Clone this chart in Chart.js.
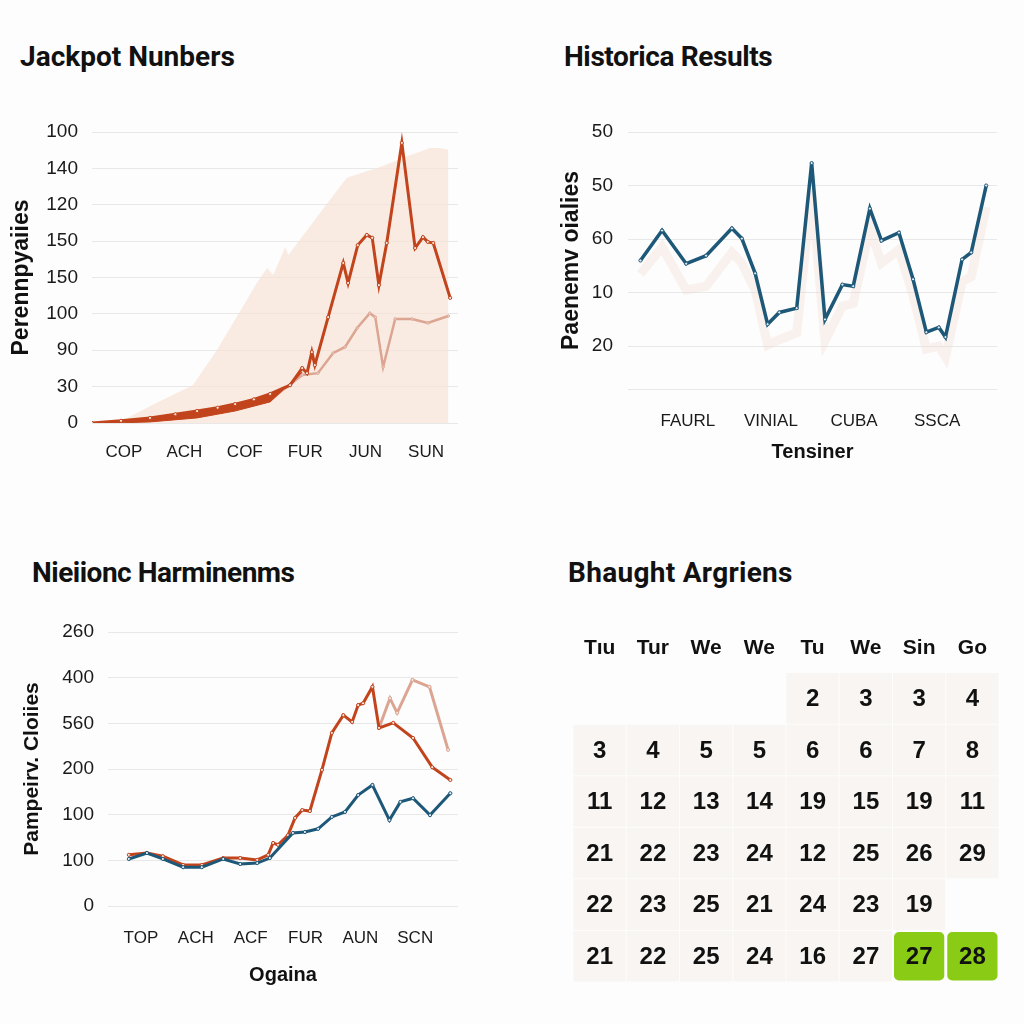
<!DOCTYPE html>
<html><head><meta charset="utf-8">
<script src="https://cdn.jsdelivr.net/npm/chart.js@4.4.1/dist/chart.umd.min.js"></script>
<style>
html,body{margin:0;padding:0;background:#fdfdfd;width:1024px;height:1024px;overflow:hidden}
.t{position:absolute;font-family:Roboto,'Liberation Sans',sans-serif;font-weight:700;font-size:28px;line-height:32px;color:#111;white-space:nowrap}
canvas{position:absolute}
</style></head><body>
<div class="t" style="left:20px;top:41px">Jackpot Nunbers</div>
<div class="t" style="left:564px;top:41px;letter-spacing:-0.4px">Historica Results</div>
<div class="t" style="left:32px;top:557px;letter-spacing:-0.5px">Nieiionc Harminenms</div>
<div class="t" style="left:568px;top:557px;letter-spacing:0.3px">Bhaught Argriens</div>
<canvas id="c1" width="480" height="380" style="left:0;top:100px"></canvas>
<canvas id="c2" width="480" height="380" style="left:540px;top:100px"></canvas>
<canvas id="c3" width="480" height="400" style="left:0;top:600px"></canvas>
<canvas id="c4" width="484" height="400" style="left:540px;top:600px"></canvas>
<script>
// ---------- Panel 1: Jackpot Nunbers ----------
const p1XTicks = [1,2,3,4,5,6];
const p1XLabels = ["COP","ACH","COF","FUR","JUN","SUN"];
const p1YTicks = [0,1,2,3,4,5,6,7,8];
const p1YLabels = ["0","30","90","100","150","150","120","140","100"];
const p1MainX = [0.47,0.95,1.43,1.85,2.21,2.55,2.84,3.15,3.42,3.75,3.95,4.03,4.11,4.16,4.38,4.63,4.71,4.87,5.02,5.11,5.22,5.35,5.60,5.82,5.95,6.03,6.12,6.40];
const p1MainY = [0,0.06,0.14,0.24,0.33,0.42,0.52,0.65,0.80,1.04,1.51,1.37,1.95,1.59,2.91,4.40,3.85,4.89,5.17,5.09,3.79,4.95,7.70,4.81,5.11,4.98,4.95,3.44];
const p1BandX = [0.47,0.95,1.43,1.85,2.21,2.55,2.84,3.15,3.42,3.75,3.95,3.42,2.84,2.21,1.43,0.47];
const p1BandY = [0,0.06,0.14,0.24,0.33,0.42,0.52,0.65,0.80,1.04,1.40,0.58,0.33,0.14,0.03,-0.02];
const p1SalmonX = [3.42,3.95,4.21,4.46,4.66,4.86,5.07,5.16,5.29,5.49,5.77,6.03,6.37];
const p1SalmonY = [0.63,1.32,1.37,1.92,2.09,2.61,3.02,2.91,1.54,2.86,2.86,2.75,2.94];
const p1AreaX = [0.47,0.93,1.5,2.14,2.54,3.20,3.37,3.47,3.67,3.72,3.91,4.3,4.69,5.24,5.7,6.07,6.23,6.37];
const p1AreaY = [0,0.03,0.52,1.04,2.01,3.85,4.26,4.07,4.84,4.62,5.03,5.9,6.74,7.04,7.34,7.56,7.56,7.51];

// ---------- Panel 2: Historica Results ----------
const p2XTicks = [1,2,3,4];
const p2XLabels = ["FAURL","VINIAL","CUBA","SSCA"];
const p2YTicks = [-0.8,0,1,2,3,4];
const p2YLabels = ["","20","10","60","50","50"];
const p2X = [0.43,0.69,0.98,1.22,1.53,1.65,1.81,1.96,2.10,2.31,2.49,2.65,2.86,2.99,3.19,3.33,3.54,3.71,3.87,4.02,4.10,4.30,4.41,4.59];
const p2Y = [1.60,2.16,1.54,1.69,2.20,2.01,1.36,0.41,0.63,0.71,3.42,0.50,1.15,1.12,2.57,1.97,2.12,1.25,0.26,0.35,0.17,1.62,1.75,3.00];
const p2Shadow = [1.35,1.85,1.05,1.12,1.75,1.55,1.05,0.02,0.12,0.25,2.9,0.1,0.75,0.8,2.2,1.55,1.8,0.95,-0.05,0.0,-0.2,1.2,1.3,2.6];

// ---------- Panel 3: Nieiionc Harminenms ----------
const p3XTicks = [1,2,3,4,5,6];
const p3XLabels = ["TOP","ACH","ACF","FUR","AUN","SCN"];
const p3YTicks = [0,1,2,3,4,5,6];
const p3YLabels = ["0","100","100","200","560","400","260"];
const p3BlueX = [0.78,1.11,1.40,1.77,2.11,2.50,2.81,3.12,3.35,3.77,3.99,4.23,4.48,4.72,4.96,5.22,5.53,5.73,5.96,6.27,6.64];
const p3BlueY = [1.03,1.16,1.03,0.85,0.85,1.03,0.92,0.94,1.05,1.60,1.62,1.69,1.95,2.06,2.43,2.65,1.88,2.28,2.36,1.99,2.47];
const p3RedX = [0.78,1.11,1.40,1.77,2.11,2.50,2.81,3.12,3.32,3.41,3.50,3.68,3.81,3.94,4.08,4.30,4.48,4.69,4.85,4.96,5.05,5.22,5.34,5.60,5.96,6.31,6.64];
const p3RedY = [1.12,1.16,1.09,0.90,0.90,1.05,1.05,1.01,1.12,1.38,1.34,1.55,1.93,2.10,2.08,2.98,3.79,4.18,4.03,4.40,4.44,4.80,3.90,4.01,3.68,3.04,2.76];
const p3SalmonX = [5.34,5.54,5.67,5.95,6.26,6.60];
const p3SalmonY = [3.90,4.55,4.23,4.95,4.80,3.42];

// ---------- Panel 4: Bhaught Argriens (calendar) ----------
const calHeaders = ["Tıu","Tur","We","We","Tu","We","Sin","Go"];
const calRows = [
  [null,null,null,null,"2","3","3","4"],
  ["3","4","5","5","6","6","7","8"],
  ["11","12","13","14","19","15","19","11"],
  ["21","22","23","24","12","25","26","29"],
  ["22","23","25","21","24","23","19",null],
  ["21","22","25","24","16","27","27","28"]
];
const calHighlight = ["5-6","5-7"];

// ---------- colours ----------
const RED = '#c2441c', SALMON = '#dca592', BLUE = '#1d5878', PEACH = 'rgba(247,226,213,0.7)';
const TICKFONT = {family:"'Liberation Sans', Arial, sans-serif", size:19};
const XFONT = {family:"'Liberation Sans', Arial, sans-serif", size:17};
const TITLEFONT = {family:"'Liberation Sans', Arial, sans-serif", size:20, weight:'bold'};

const pts = (xs, ys) => xs.map((x,i)=>({x, y: ys[i]}));

function lineDs(xs, ys, color, width, extra){
  return Object.assign({type:'line', data: pts(xs,ys), borderColor: color, borderWidth: width, tension:0,
    pointRadius:1.6, pointBackgroundColor:'#efe6e2', pointBorderColor: color, pointBorderWidth:1, fill:false}, extra||{});
}

function axes(cfg){
  return {
    x: {type:'linear', min:cfg.xmin, max:cfg.xmax,
      afterBuildTicks: a => { a.ticks = cfg.xTicks.map(v=>({value:v})); },
      afterFit: a => { a.height = cfg.xh; },
      grid:{display:false, drawTicks:false}, border:{display:false},
      ticks:{padding:cfg.xpad, color:'#1a1a1a', font:XFONT, maxRotation:0, autoSkip:false, callback:(v,i)=>cfg.xLabels[i]},
      title: cfg.xTitle ? {display:true, text:cfg.xTitle, font:TITLEFONT, color:'#111', padding:{top:0,bottom:cfg.xtp}} : {display:false}
    },
    y: {type:'linear', min:cfg.ymin, max:cfg.ymax,
      afterBuildTicks: a => { a.ticks = cfg.yTicks.map(v=>({value:v})); },
      afterFit: a => { a.width = cfg.yw; },
      grid:{color:'#e8e8e8', lineWidth:1, drawTicks:false}, border:{display:false},
      ticks:{padding:cfg.ypad, color:'#1a1a1a', font:TICKFONT, callback:(v,i)=>cfg.yLabels[i]},
      title:{display:true, text:cfg.yTitle, font:Object.assign({}, TITLEFONT, {size:cfg.yts}), color:'#111', padding:{top:cfg.ytp, bottom:0}}
    }
  };
}
const baseOpts = (pad, scales) => ({responsive:false, animation:false, layout:{padding:pad},
  plugins:{legend:{display:false}, tooltip:{enabled:false}}, scales});

// Panel 1
new Chart(document.getElementById('c1'), {
  type:'line',
  data:{datasets:[
    lineDs(p1MainX, p1MainY, RED, 3, {order:1}),
    lineDs(p1BandX, p1BandY, RED, 1, {order:2, fill:'shape', backgroundColor:RED, pointRadius:0}),
    lineDs(p1SalmonX, p1SalmonY, SALMON, 2.5, {order:3, pointRadius:1.2}),
    lineDs(p1AreaX, p1AreaY, 'rgba(0,0,0,0)', 0, {order:4, fill:'origin', backgroundColor:PEACH, pointRadius:0})
  ]},
  options: baseOpts({left:0,right:22,top:32,bottom:0}, axes({
    xmin:0.47, xmax:6.53, xTicks:p1XTicks, xLabels:p1XLabels, xh:57, xpad:19,
    ymin:0, ymax:8, yTicks:p1YTicks, yLabels:p1YLabels, yw:92, ypad:14, yTitle:'Perennpyaiies', ytp:8, yts:23
  }))
});

// Panel 2
new Chart(document.getElementById('c2'), {
  type:'line',
  data:{datasets:[
    lineDs(p2X, p2Y, BLUE, 3.5, {order:1, pointBackgroundColor:'#dfe8ee'}),
    lineDs(p2X, p2Shadow, 'rgba(238,208,192,0.25)', 9, {order:2, pointRadius:0})
  ]},
  options: baseOpts({left:0,right:23,top:32,bottom:0}, axes({
    xmin:0.28, xmax:4.72, xTicks:p2XTicks, xLabels:p2XLabels, xh:91, xpad:22, xTitle:'Tensiner', xtp:16,
    ymin:-0.8, ymax:4, yTicks:p2YTicks, yLabels:p2YLabels, yw:88, ypad:15, yTitle:'Paenemv oialies', ytp:18, yts:23
  }))
});

// Panel 3
new Chart(document.getElementById('c3'), {
  type:'line',
  data:{datasets:[
    lineDs(p3BlueX, p3BlueY, BLUE, 3, {order:1, pointBackgroundColor:'#dfe8ee'}),
    lineDs(p3RedX, p3RedY, RED, 3, {order:2}),
    lineDs(p3SalmonX, p3SalmonY, SALMON, 3, {order:3})
  ]},
  options: baseOpts({left:0,right:22,top:32,bottom:0}, axes({
    xmin:0.40, xmax:6.78, xTicks:p3XTicks, xLabels:p3XLabels, xh:94, xpad:22, xTitle:'Ogaina', xtp:13,
    ymin:0, ymax:6, yTicks:p3YTicks, yLabels:p3YLabels, yw:108, ypad:14, yTitle:'Pampeirv. Cloiies', ytp:20, yts:21
  }))
});

// Panel 4: calendar
const calCells = [];
calHeaders.forEach((h,c)=>calCells.push({x:c+1, y:0, label:h, kind:'h'}));
calRows.forEach((row,r)=>row.forEach((v,c)=>{
  if(v!==null) calCells.push({x:c+1, y:r+1, label:v, kind: calHighlight.includes(r+'-'+c) ? 'g' : 'd'});
}));
const calPlugin = {
  id:'cal',
  afterDatasetsDraw(chart){
    const ctx = chart.ctx, xs = chart.scales.x, ys = chart.scales.y;
    const cw = Math.abs(xs.getPixelForValue(2)-xs.getPixelForValue(1));
    const ch = Math.abs(ys.getPixelForValue(2)-ys.getPixelForValue(1));
    const meta = chart.getDatasetMeta(0);
    ctx.save();
    meta.data.forEach((el,i)=>{
      const d = chart.data.datasets[0].data[i];
      const w = cw-3, h = ch-3;
      if(d.kind==='d' || d.kind==='g'){
        ctx.beginPath();
        if(d.kind==='g'){
          ctx.fillStyle = '#8acb16';
          ctx.roundRect(el.x-w/2, el.y-h/2, w, h, 5);
        } else {
          ctx.fillStyle = '#f8f5f2';
          ctx.rect(el.x-cw/2+0.5, el.y-ch/2+0.5, cw-1, ch-1);
        }
        ctx.fill();
      }
      ctx.fillStyle = '#111';
      ctx.textAlign = 'center';
      ctx.textBaseline = 'middle';
      ctx.font = d.kind==='h' ? "bold 21px 'Liberation Sans', Arial, sans-serif" : "bold 24px 'Liberation Sans', Arial, sans-serif";
      ctx.fillText(d.label, el.x, el.y+1);
    });
    ctx.restore();
  }
};
new Chart(document.getElementById('c4'), {
  type:'scatter',
  data:{datasets:[{data:calCells, pointRadius:0, pointHoverRadius:0}]},
  options:{responsive:false, animation:false, layout:{padding:{left:33,right:25,top:21,bottom:18}},
    plugins:{legend:{display:false}, tooltip:{enabled:false}},
    scales:{x:{type:'linear', min:0.5, max:8.5, display:false}, y:{type:'linear', min:-0.5, max:6.5, reverse:true, display:false}}},
  plugins:[calPlugin]
});
</script>
</body></html>
